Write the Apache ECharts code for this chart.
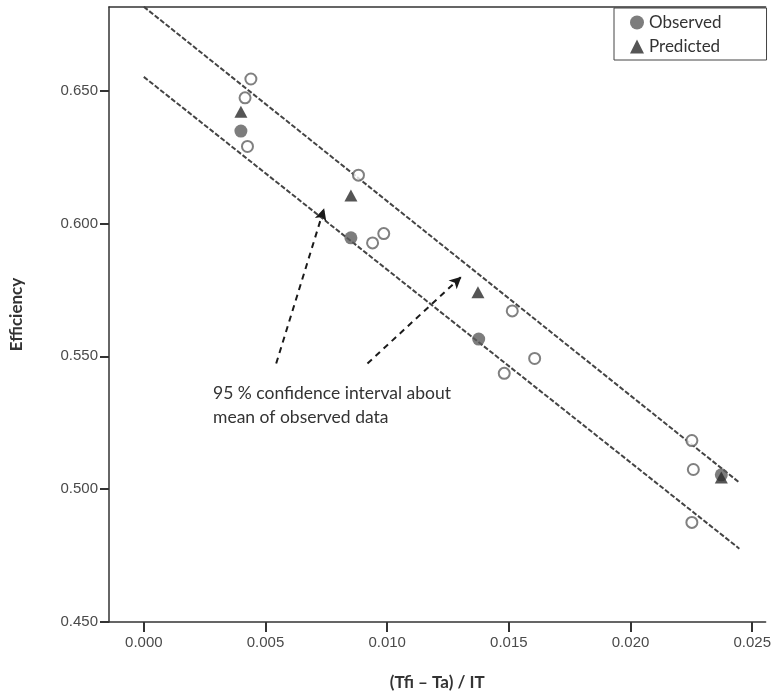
<!DOCTYPE html>
<html>
<head>
<meta charset="utf-8">
<script src="https://cdn.jsdelivr.net/npm/echarts@6/dist/echarts.min.js"></script>
<style>
html,body{margin:0;padding:0;background:#fff;}
#chart{width:774px;height:696px;}
</style>
</head>
<body>
<div id="chart"></div>
<script>
// ---- data ----
const xTicks = [0.000, 0.005, 0.010, 0.015, 0.020, 0.025];
const yTicks = [0.450, 0.500, 0.550, 0.600, 0.650];
const observed = [[0.00399, 0.6348], [0.00851, 0.5946], [0.01376, 0.5565], [0.02373, 0.5054]];
const predicted = [[0.00399, 0.6421], [0.00851, 0.6105], [0.01373, 0.5741], [0.02373, 0.5044]];
const individual = [
  [0.00440, 0.6544], [0.00416, 0.6473], [0.00426, 0.6290],
  [0.00882, 0.6182], [0.00986, 0.5962], [0.00940, 0.5927],
  [0.01514, 0.5671], [0.01606, 0.5492], [0.01481, 0.5436],
  [0.02252, 0.5183], [0.02258, 0.5074], [0.02252, 0.4875]
];
const upperCI = [[0.0000, 0.6816], [0.02447, 0.5025]];
const lowerCI = [[0.0000, 0.6552], [0.02447, 0.4776]];
const arrowFrom = [[0.00544, 0.5473], [0.00919, 0.5473]];
const arrowTo = [[0.00741, 0.6057], [0.01305, 0.5800]];
const noteLines = ['95 % confidence interval about', 'mean of observed data'];

const chart = echarts.init(document.getElementById('chart'), null, {renderer: 'canvas'});

const labelFont = {fontFamily: 'Liberation Sans', fontSize: 15, color: '#4a4a4a'};

const option = {
  backgroundColor: '#ffffff',
  animation: false,
  grid: {left: 109, top: 7, right: 0, bottom: 70, show: false},
  legend: {
    data: ['Observed', 'Predicted'],
    orient: 'vertical',
    left: 614, top: 8,
    padding: [6, 45, 5, 16],
    itemWidth: 14, itemHeight: 14, itemGap: 7, itemTextGap: 22,
    borderColor: '#444', borderWidth: 1, backgroundColor: '#fff',
    textStyle: {fontFamily: 'Lato', fontSize: 17, color: '#333'}
  },
  xAxis: [{
    type: 'value',
    min: -0.00143, max: 0.02555,
    name: '(Tfi \u2013 Ta) / IT',
    nameLocation: 'middle', nameGap: 52,
    nameTextStyle: {fontFamily: 'Lato', fontWeight: 'bold', fontSize: 17, color: '#333'},
    axisLine: {show: true, onZero: false, lineStyle: {color: '#333', width: 1.5}},
    axisTick: {show: true, length: 10, customValues: xTicks, lineStyle: {color: '#333', width: 2}},
    axisLabel: {customValues: xTicks, margin: 13, formatter: v => v.toFixed(3), ...labelFont},
    splitLine: {show: false}
  }, {
    type: 'value', position: 'top',
    min: -0.00143, max: 0.02555,
    axisLine: {show: true, onZero: false, lineStyle: {color: '#333', width: 1.5}},
    axisTick: {show: false}, axisLabel: {show: false}, splitLine: {show: false}
  }],
  yAxis: {
    type: 'value',
    min: 0.45, max: 0.6815,
    name: 'Efficiency',
    nameLocation: 'middle', nameGap: 84,
    nameTextStyle: {fontFamily: 'Lato', fontWeight: 'bold', fontSize: 17, color: '#333'},
    axisLine: {show: true, onZero: false, lineStyle: {color: '#333', width: 1.5}},
    axisTick: {show: true, length: 9, customValues: yTicks, lineStyle: {color: '#333', width: 2}},
    axisLabel: {customValues: yTicks, margin: 11, formatter: v => v.toFixed(3), ...labelFont},
    splitLine: {show: false}
  },
  series: [
    {
      name: 'UpperCI', type: 'line', data: upperCI, showSymbol: false, silent: true,
      lineStyle: {color: '#444', width: 2, type: [5, 2]}, z: 2
    },
    {
      name: 'LowerCI', type: 'line', data: lowerCI, showSymbol: false, silent: true,
      lineStyle: {color: '#444', width: 2, type: [5, 2]}, z: 2,
      markLine: {
        silent: true,
        symbol: ['none', 'arrow'],
        symbolSize: [9, 12],
        label: {show: false},
        lineStyle: {color: '#1a1a1a', width: 2, type: [6, 5]},
        data: arrowFrom.map((p, i) => [{coord: p}, {coord: arrowTo[i]}])
      }
    },
    {
      name: 'Individual', type: 'scatter', data: individual, symbol: 'circle', symbolSize: 11,
      itemStyle: {color: '#fff', borderColor: '#606060', borderWidth: 2}, z: 3
    },
    {
      name: 'Observed', type: 'scatter', data: observed, symbol: 'circle', symbolSize: 13,
      itemStyle: {color: '#5c5c5c'}, z: 4
    },
    {
      name: 'Predicted', type: 'scatter', data: predicted, symbol: 'triangle', symbolSize: [13, 12],
      itemStyle: {color: '#2b2b2b'}, z: 5
    }
  ],
  graphic: [
    {
      type: 'text', left: 213, top: 381,
      style: {
        text: noteLines.join('\n'), fontFamily: 'Lato', fontSize: 17.5, lineHeight: 24,
        fill: '#333'
      }
    }
  ]
};

chart.setOption(option);
</script>
</body>
</html>
